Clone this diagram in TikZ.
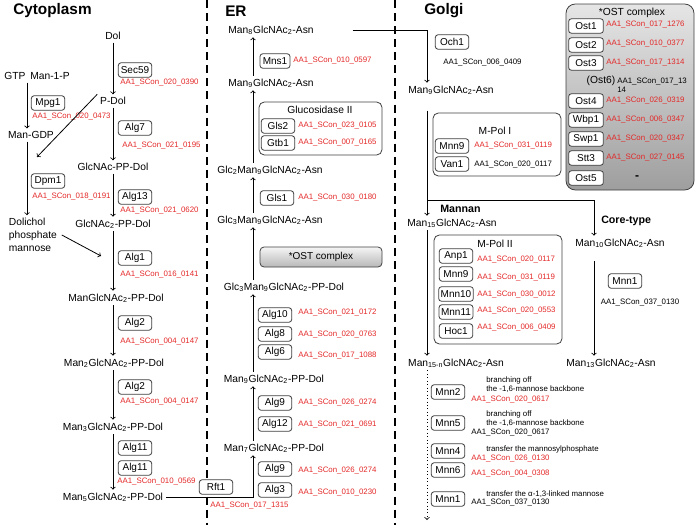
\documentclass[tikz,border=0pt]{standalone}
\usepackage{fontspec}
\setmainfont{Liberation Sans}
\usetikzlibrary{calc}
\definecolor{idred}{RGB}{228,40,40}
\def\sbs#1{\textsubscript{#1}}
\tikzset{
	lbl/.style={font=\fontsize{7.7}{9.5}\selectfont, inner sep=2pt},
	ttl/.style={font=\fontsize{11.5}{13}\selectfont\bfseries, inner sep=0pt, anchor=west},
	hdr/.style={font=\fontsize{8}{9}\selectfont\bfseries, inner sep=0pt, anchor=west},
	enz/.style={draw=black!75, line width=0.6pt, rounded corners=2pt, fill=white, font=\fontsize{7.5}{9}\selectfont, inner xsep=1.5pt, inner ysep=1pt, minimum width=25pt, minimum height=10.8pt},
	sid/.style={text=idred, font=\fontsize{5.9}{7}\selectfont, inner sep=0pt, anchor=west},
	bid/.style={font=\fontsize{5.9}{7}\selectfont, inner sep=0pt, anchor=west},
	note/.style={font=\fontsize{5.9}{6.8}\selectfont, inner sep=0pt, anchor=west, align=left},
	grp/.style={draw=black!75, line width=0.6pt, rounded corners=4pt},
	sep/.style={line width=1.5pt, dash pattern=on 6pt off 3.8pt},
	flow/.style={->, line width=0.6pt},
}

\begin{document}
\begin{tikzpicture}[x=0.75pt, y=-0.75pt]
			%%%%% START %%%%%
			\useasboundingbox (0,0) rectangle (700,525);
			
			\draw[sep] (207,0) -- (207,525);
			\draw[sep] (395,0) -- (395,525);
			
			\node[ttl] (tcyto) at (13,11) {Cytoplasm};
			\node[ttl] (ter) at (225,11) {ER};
			\node[ttl] (tgolgi) at (424,11) {Golgi};
			
			% cytoplasm
			\coordinate (cx) at (113,0);
			\coordinate (lx) at (27,0);
			\node[lbl] (dol) at (113,36) {Dol};
			\node[lbl] (pdol) at (113,101) {P-Dol};
			\node[lbl] (glcnac) at (113,167) {GlcNAc-PP-Dol};
			\node[lbl] (glcnac2) at (113,224) {GlcNAc\sbs{2}-PP-Dol};
			\node[lbl] (m1pp) at (116,298) {ManGlcNAc\sbs{2}-PP-Dol};
			\node[lbl] (m2pp) at (114,363) {Man\sbs{2}GlcNAc\sbs{2}-PP-Dol};
			\node[lbl] (m3pp) at (113,427) {Man\sbs{3}GlcNAc\sbs{2}-PP-Dol};
			\node[lbl] (m5pp) at (113,497) {Man\sbs{5}GlcNAc\sbs{2}-PP-Dol};
			
			\node[enz] (sec59) at (135,70) {Sec59};
			\node[sid] (sec59id) at (120,83) {AA1\_SCon\_020\_0390};
			\node[enz] (alg7) at (135,128) {Alg7};
			\node[sid] (alg7id) at (122,146) {AA1\_SCon\_021\_0195};
			\node[enz] (alg13) at (135,197) {Alg13};
			\node[sid] (alg13id) at (120,211) {AA1\_SCon\_021\_0620};
			\node[enz] (alg1) at (135,258) {Alg1};
			\node[sid] (alg1id) at (120,275) {AA1\_SCon\_016\_0141};
			\node[enz] (alg2a) at (135,323) {Alg2};
			\node[sid] (alg2aid) at (120,342) {AA1\_SCon\_004\_0147};
			\node[enz] (alg2b) at (135,387) {Alg2};
			\node[sid] (alg2bid) at (120,402) {AA1\_SCon\_004\_0147};
			\node[enz] (alg11a) at (135,448) {Alg11};
			\node[enz] (alg11b) at (135,468) {Alg11};
			\node[sid] (alg11id) at (117,482) {AA1\_SCon\_010\_0569};
			
			\node[lbl] (gtp) at (15,76) {GTP};
			\node[lbl] (man1p) at (50,76) {Man-1-P};
			\node[lbl] (mangdp) at (31,135) {Man-GDP};
			\node[lbl, anchor=west, align=left, font=\fontsize{7.7}{9.8}\selectfont] (dpm) at (6,235) {Dolichol\\phosphate\\mannose};
			\node[enz] (mpg1) at (48,103) {Mpg1};
			\node[sid] (mpg1id) at (32,117) {AA1\_SCon\_020\_0473};
			\node[enz] (dpm1) at (48,181) {Dpm1};
			\node[sid] (dpm1id) at (32,197) {AA1\_SCon\_018\_0191};
			\coordinate (dpmin) at (37,157);
			\coordinate (alg1in) at (101,256);
			
			\draw[flow] (dol.south -| cx) -- (pdol.north -| cx);
			\draw[flow] (pdol.south -| cx) -- (glcnac.north -| cx);
			\draw[flow] (glcnac.south -| cx) -- (glcnac2.north -| cx);
			\draw[flow] (glcnac2.south -| cx) -- (m1pp.north -| cx);
			\draw[flow] (m1pp.south -| cx) -- (m2pp.north -| cx);
			\draw[flow] (m2pp.south -| cx) -- (m3pp.north -| cx);
			\draw[flow] (m3pp.south -| cx) -- (m5pp.north -| cx);
			\draw[flow] (gtp.south -| lx) -- (mangdp.north -| lx);
			\draw[flow] (mangdp.south -| lx) -- (dpm.north -| lx);
			\draw[flow] (pdol.north west) -- (dpmin);
			\draw[flow] ($(dpm.east)+(2,0)$) -- (alg1in);
			
			% ER
			\coordinate (ex) at (253,0);
			\node[lbl] (m8asn) at (271,30) {Man\sbs{8}GlcNAc\sbs{2}-Asn};
			\node[lbl] (m9asn) at (271,83) {Man\sbs{9}GlcNAc\sbs{2}-Asn};
			\node[lbl] (g2asn) at (270,170) {Glc\sbs{2}Man\sbs{9}GlcNAc\sbs{2}-Asn};
			\node[lbl] (g3asn) at (270,220) {Glc\sbs{3}Man\sbs{9}GlcNAc\sbs{2}-Asn};
			\node[lbl, anchor=west] (g3pp) at (221,287) {Glc\sbs{3}Man\sbs{9}GlcNAc\sbs{2}-PP-Dol};
			\node[lbl, anchor=west] (m9pp) at (221,379) {Man\sbs{9}GlcNAc\sbs{2}-PP-Dol};
			\node[lbl, anchor=west] (m7pp) at (221,448) {Man\sbs{7}GlcNAc\sbs{2}-PP-Dol};
			
			\node[enz, minimum width=22.5pt] (mns1) at (275,61) {Mns1};
			\node[sid] (mns1id) at (293,61) {AA1\_SCon\_010\_0597};
			\draw[grp] (259,102) rectangle (382,155);
			\node[lbl] (glsii) at (320,110) {Glucosidase II};
			\node[enz] (gls2) at (278,126) {Gls2};
			\node[sid] (gls2id) at (298,126) {AA1\_SCon\_023\_0105};
			\node[enz] (gtb1) at (278,143) {Gtb1};
			\node[sid] (gtb1id) at (298,143) {AA1\_SCon\_007\_0165};
			\node[enz] (gls1) at (277,198) {Gls1};
			\node[sid] (gls1id) at (298,198) {AA1\_SCon\_030\_0180};
			\node[enz, rounded corners=3pt, top color=black!4, bottom color=black!28, minimum width=91.5pt, minimum height=15pt] (erost) at (321,257) {*OST complex};
			
			\node[enz] (alg10) at (275,315) {Alg10};
			\node[sid] (alg10id) at (298,313) {AA1\_SCon\_021\_0172};
			\node[enz] (alg8) at (275,334) {Alg8};
			\node[sid] (alg8id) at (298,335) {AA1\_SCon\_020\_0763};
			\node[enz] (alg6) at (275,352) {Alg6};
			\node[sid] (alg6id) at (298,356) {AA1\_SCon\_017\_1088};
			\node[enz] (alg9a) at (275,403) {Alg9};
			\node[sid] (alg9aid) at (298,403) {AA1\_SCon\_026\_0274};
			\node[enz] (alg12) at (275,424) {Alg12};
			\node[sid] (alg12id) at (298,425) {AA1\_SCon\_021\_0691};
			\node[enz] (alg9b) at (275,469) {Alg9};
			\node[sid] (alg9bid) at (298,471) {AA1\_SCon\_026\_0274};
			\node[enz] (alg3) at (275,490) {Alg3};
			\node[sid] (alg3id) at (298,493) {AA1\_SCon\_010\_0230};
			
			\draw[flow] (m5pp.east) -- (m5pp.east -| ex) -- (m7pp.south -| ex);
			\node[enz] (rft1) at (216,487) {Rft1};
			\node[sid] (rft1id) at (210,506) {AA1\_SCon\_017\_1315};
			
			\draw[flow] (m7pp.north -| ex) -- (m9pp.south -| ex);
			\draw[flow] (m9pp.north -| ex) -- (g3pp.south -| ex);
			\draw[flow] (g3pp.north -| ex) -- (g3asn.south -| ex);
			\draw[flow] (g3asn.north -| ex) -- (g2asn.south -| ex);
			\draw[flow] (g2asn.north -| ex) -- (m9asn.south -| ex);
			\draw[flow] (m9asn.north -| ex) -- (m8asn.south -| ex);
			
			% Golgi
			\coordinate (gx) at (427,0);
			\coordinate (kx) at (594,0);
			\coordinate (split) at (427,200);
			\coordinate (gend) at (427,520);
			\node[enz] (och1) at (452,42) {Och1};
			\node[bid] (och1id) at (443,63) {AA1\_SCon\_006\_0409};
			\node[lbl] (gm9) at (451,90) {Man\sbs{9}GlcNAc\sbs{2}-Asn};
			
			\draw[grp] (433,113) rectangle (561,176);
			\node[lbl] (mpol1) at (495,131) {M-Pol I};
			\node[enz] (mnn9a) at (452,146) {Mnn9};
			\node[sid] (mnn9aid) at (474,146) {AA1\_SCon\_031\_0119};
			\node[enz] (van1) at (452,164) {Van1};
			\node[bid] (van1id) at (474,165) {AA1\_SCon\_020\_0117};
			
			\node[hdr] (mannan) at (440,209) {Mannan};
			\node[hdr] (coretype) at (601,221) {Core-type};
			\node[lbl] (gm15) at (452,223) {Man\sbs{15}GlcNAc\sbs{2}-Asn};
			\node[lbl] (gm10) at (620,243) {Man\sbs{10}GlcNAc\sbs{2}-Asn};
			
			\draw[grp] (434,235) rectangle (562,344);
			\node[lbl] (mpol2) at (495,244) {M-Pol II};
			\node[enz] (anp1) at (456,256) {Anp1};
			\node[sid] (anp1id) at (477,260) {AA1\_SCon\_020\_0117};
			\node[enz] (mnn9b) at (456,274) {Mnn9};
			\node[sid] (mnn9bid) at (477,278) {AA1\_SCon\_031\_0119};
			\node[enz] (mnn10) at (456,294) {Mnn10};
			\node[sid] (mnn10id) at (477,295) {AA1\_SCon\_030\_0012};
			\node[enz] (mnn11) at (456,312) {Mnn11};
			\node[sid] (mnn11id) at (477,311) {AA1\_SCon\_020\_0553};
			\node[enz] (hoc1) at (456,331) {Hoc1};
			\node[sid] (hoc1id) at (477,328) {AA1\_SCon\_006\_0409};
			
			\node[enz] (mnn1a) at (625,281) {Mnn1};
			\node[bid, anchor=center] (mnn1aid) at (640,303) {AA1\_SCon\_037\_0130};
			\node[lbl] (gm15n) at (456,363) {Man\sbs{15-n}GlcNAc\sbs{2}-Asn};
			\node[lbl] (gm13) at (611,363) {Man\sbs{13}GlcNAc\sbs{2}-Asn};
			
			\draw[flow] ($(m8asn.east)+(36,0)$) -- (gx |- m8asn.east) -- (gm9.north -| gx);
			\draw[flow, shorten <=10pt] (gm9.south -| gx) -- (gm15.north -| gx);
			\draw[flow] (split) -- (split -| kx) -- (gm10.north -| kx);
			\draw[flow] (gm15.south -| gx) -- (gm15n.north -| gx);
			\draw[flow, shorten <=8pt] (gm10.south -| kx) -- (gm13.north -| kx);
			\draw[flow, dotted] (gm15n.south -| gx) -- (gend);
			
			\node[enz] (mnn2) at (448,392) {Mnn2};
			\node[note] (mnn2txt) at (486,384.5) {branching off\\the -1,6-mannose backbone};
			\node[sid] (mnn2id) at (471,400) {AA1\_SCon\_020\_0617};
			\node[enz] (mnn5) at (448,423) {Mnn5};
			\node[note] (mnn5txt) at (486,418.5) {branching off\\the -1,6-mannose backbone};
			\node[bid] (mnn5id) at (471,433) {AA1\_SCon\_020\_0617};
			\node[enz] (mnn4) at (448,451) {Mnn4};
			\node[note] (mnn4txt) at (486,449) {transfer the mannosylphosphate};
			\node[sid] (mnn4id) at (471,459) {AA1\_SCon\_026\_0130};
			\node[enz] (mnn6) at (448,470) {Mnn6};
			\node[sid] (mnn6id) at (471,474) {AA1\_SCon\_004\_0308};
			\node[enz] (mnn1b) at (448,499) {Mnn1};
			\node[note] (mnn1btxt) at (486,494) {transfer the α-1,3-linked mannose};
			\node[bid] (mnn1bid) at (471,503) {AA1\_SCon\_037\_0130};
			
			% OST complex
			\draw[grp, rounded corners=7pt, top color=black!10, bottom color=black!38] (566,4) rectangle (694,190);
			\node[lbl] (ostttl) at (632,13) {*OST complex};
			\node[enz, minimum width=26pt] (ost1) at (586,26) {Ost1};
			\node[sid] (ost1id) at (606,25) {AA1\_SCon\_017\_1276};
			\node[enz, minimum width=26pt] (ost2) at (586,45) {Ost2};
			\node[sid] (ost2id) at (606,44) {AA1\_SCon\_010\_0377};
			\node[enz, minimum width=26pt] (ost3) at (586,63) {Ost3};
			\node[sid] (ost3id) at (606,63) {AA1\_SCon\_017\_1314};
			\node[lbl] (ost6) at (601,81) {(Ost6)};
			\node[note] (ost6id) at (617,85) {AA1\_SCon\_017\_13\\14};
			\node[enz, minimum width=26pt] (ost4) at (586,101) {Ost4};
			\node[sid] (ost4id) at (606,101) {AA1\_SCon\_026\_0319};
			\node[enz, minimum width=26pt] (wbp1) at (586,120) {Wbp1};
			\node[sid] (wbp1id) at (606,120) {AA1\_SCon\_006\_0347};
			\node[enz, minimum width=26pt] (swp1) at (586,139) {Swp1};
			\node[sid] (swp1id) at (606,139) {AA1\_SCon\_020\_0347};
			\node[enz, minimum width=26pt] (stt3) at (586,158) {Stt3};
			\node[sid] (stt3id) at (606,158) {AA1\_SCon\_027\_0145};
			\node[enz, minimum width=26pt] (ost5) at (586,178) {Ost5};
			\node[font=\fontsize{9}{10}\selectfont\bfseries, inner sep=0pt] (ost5id) at (637,178) {-};
			
			%%%%% END %%%%%
		\end{tikzpicture}
\end{document}
